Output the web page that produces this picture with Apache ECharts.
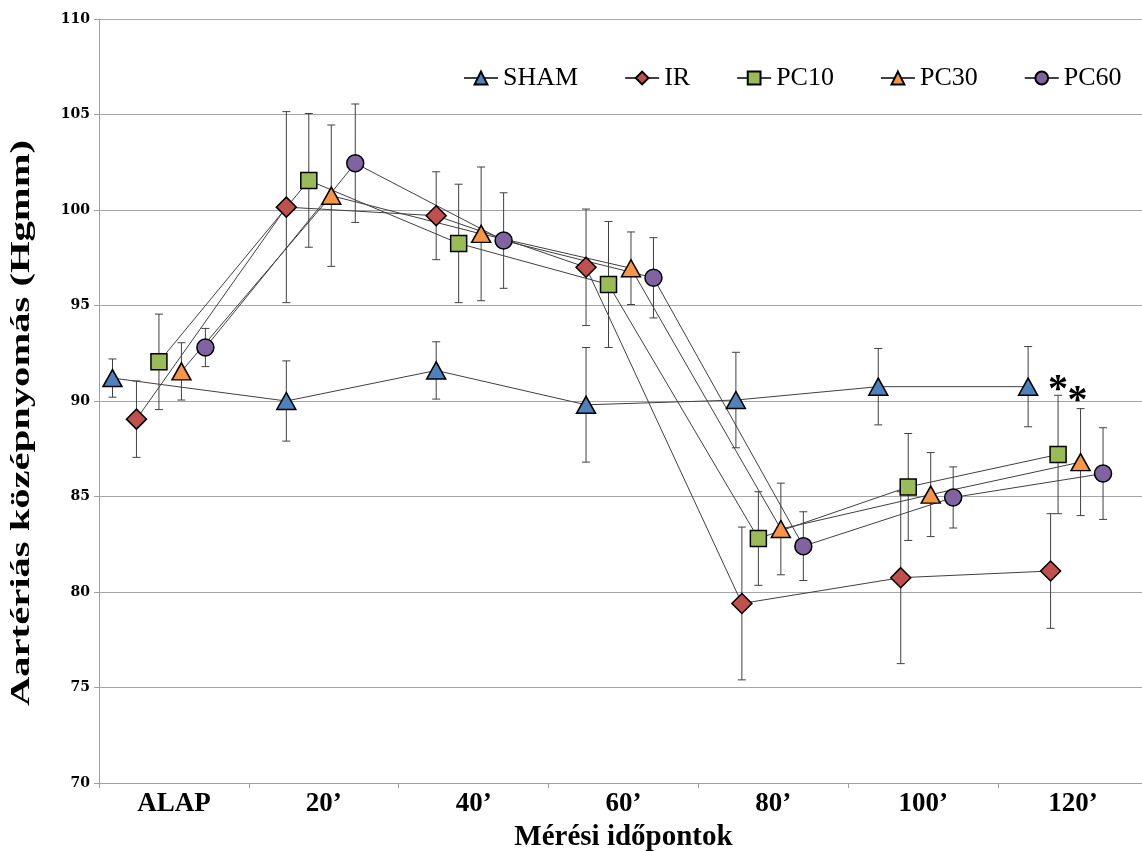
<!DOCTYPE html>
<html>
<head>
<meta charset="utf-8">
<script src="https://cdn.jsdelivr.net/npm/echarts@6/dist/echarts.min.js"></script>
<style>
  html, body { margin: 0; padding: 0; background: #fff; }
  #chart { width: 1142px; height: 851px; }
</style>
</head>
<body>
<div id="chart"></div>
<script>
// categories on the x axis
const categories = ['ALAP', '20’', '40’', '60’', '80’', '100’', '120’'];
const yTicks = [70, 75, 80, 85, 90, 95, 100, 105, 110];

// x position of each point inside its time slot (slot index + offset)
const shamX = [0.09, 1.25, 2.25, 3.25, 4.25, 5.2, 6.2];
const irX   = [0.25, 1.25, 2.25, 3.25, 4.29, 5.35, 6.35];
const pc10X = [0.4, 1.4, 2.4, 3.4, 4.4, 5.4, 6.4];
const pc30X = [0.55, 1.55, 2.55, 3.55, 4.55, 5.55, 6.55];
const pc60X = [0.71, 1.71, 2.7, 3.7, 4.7, 5.7, 6.7];

// means (Hgmm)
const shamMean = [91.2, 90.0, 91.6, 89.8, 90.05, 90.75, 90.75];
const irMean   = [89.05, 100.15, 99.7, 97.0, 79.4, 80.75, 81.1];
const pc10Mean = [92.05, 101.55, 98.25, 96.1, 82.8, 85.5, 87.2];
const pc30Mean = [91.55, 100.75, 98.75, 96.95, 83.3, 85.1, 86.8];
const pc60Mean = [92.8, 102.45, 98.4, 96.45, 82.4, 84.95, 86.2];

// error bar half widths
const shamErr = [1.0, 2.1, 1.5, 3.0, 2.5, 2.0, 2.1];
const irErr   = [2.0, 5.0, 2.3, 3.05, 4.0, 4.5, 3.0];
const pc10Err = [2.5, 3.5, 3.1, 3.3, 2.45, 2.8, 3.1];
const pc30Err = [1.5, 3.7, 3.5, 1.9, 2.4, 2.2, 2.8];
const pc60Err = [1.0, 3.1, 2.5, 2.1, 1.8, 1.6, 2.4];

// significance marks (*)
const sigX = [6.4, 6.53];
const sigY = [90.95, 90.4];

const serif = 'Liberation Serif';

function pairs(xs, ys) {
    let out = [];
    for (let i = 0; i < xs.length; i++) out.push([xs[i], ys[i]]);
    return out;
}
function errData(xs, ys, es) {
    let out = [];
    for (let i = 0; i < xs.length; i++) out.push([xs[i], ys[i] - es[i], ys[i] + es[i]]);
    return out;
}

function errBars(name, xs, ys, es) {
    return {
        type: 'custom',
        name: name + ' err',
        xAxisIndex: 1,
        z: 1,
        silent: true,
        data: errData(xs, ys, es),
        renderItem: function (params, api) {
            let x = api.value(0);
            let lo = api.coord([x, api.value(1)]);
            let hi = api.coord([x, api.value(2)]);
            let st = { stroke: '#404040', lineWidth: 1 };
            return {
                type: 'group',
                children: [
                    { type: 'line', shape: { x1: lo[0], y1: lo[1], x2: hi[0], y2: hi[1] }, style: st },
                    { type: 'line', shape: { x1: lo[0] - 4, y1: lo[1], x2: lo[0] + 4, y2: lo[1] }, style: st },
                    { type: 'line', shape: { x1: hi[0] - 4, y1: hi[1], x2: hi[0] + 4, y2: hi[1] }, style: st }
                ]
            };
        }
    };
}

function lineSeries(name, xs, ys, symbol, size, color) {
    return {
        type: 'line',
        name: name,
        xAxisIndex: 1,
        z: 3,
        data: pairs(xs, ys),
        symbol: symbol,
        symbolSize: size,
        showAllSymbol: true,
        lineStyle: { color: '#404040', width: 1 },
        itemStyle: { color: color, borderColor: '#000', borderWidth: 1.5 },
        emphasis: { disabled: true }
    };
}

let option = {
    animation: false,
    backgroundColor: '#fff',
    grid: { left: 99, right: -6, top: 19, bottom: 68, outerBoundsMode: 'none', containLabel: false },
    legend: {
        left: 458,
        top: 60,
        itemGap: 46,
        itemWidth: 34,
        itemHeight: 16,
        data: ['SHAM', 'IR', 'PC10', 'PC30', 'PC60'],
        textStyle: { fontFamily: serif, fontSize: 26, color: '#000', padding: [0, 0, 0, 0] }
    },
    xAxis: [{
        type: 'category',
        data: categories,
        axisLine: { lineStyle: { color: '#a0a0a0' } },
        axisTick: { show: true, length: 5, lineStyle: { color: '#a0a0a0' } },
        axisLabel: { fontFamily: serif, fontWeight: 'bold', fontSize: 27, color: '#000', margin: 8 },
        name: 'Mérési időpontok',
        nameLocation: 'middle',
        nameGap: 38,
        nameTextStyle: { fontFamily: serif, fontWeight: 'bold', fontSize: 29, color: '#000' }
    }, {
        type: 'value',
        min: 0,
        max: 7,
        show: false
    }],
    yAxis: {
        type: 'value',
        min: yTicks[0],
        max: yTicks[yTicks.length - 1],
        interval: 5,
        axisLine: { show: true, lineStyle: { color: '#a0a0a0' } },
        axisTick: { show: true, length: 5, lineStyle: { color: '#a0a0a0' } },
        axisLabel: { fontFamily: 'DejaVu Serif', fontWeight: 'bold', fontSize: 14, color: '#000', margin: 9 },
        splitLine: { lineStyle: { color: '#a6a6a6', width: 1 } }
    },
    graphic: [{
        type: 'text',
        x: 22,
        y: 423,
        rotation: Math.PI / 2,
        scaleX: 1.45,
        style: {
            text: 'Aartériás középnyomás (Hgmm)',
            font: 'bold 28px "Liberation Serif"',
            fill: '#000',
            textAlign: 'center',
            textVerticalAlign: 'middle'
        }
    }],
    series: [
        errBars('SHAM', shamX, shamMean, shamErr),
        errBars('IR', irX, irMean, irErr),
        errBars('PC10', pc10X, pc10Mean, pc10Err),
        errBars('PC30', pc30X, pc30Mean, pc30Err),
        errBars('PC60', pc60X, pc60Mean, pc60Err),
        lineSeries('SHAM', shamX, shamMean, 'triangle', [19, 17], '#4F81BD'),
        lineSeries('IR', irX, irMean, 'diamond', [20, 20], '#C0504D'),
        lineSeries('PC10', pc10X, pc10Mean, 'rect', [16, 16], '#9BBB59'),
        lineSeries('PC30', pc30X, pc30Mean, 'triangle', [19, 17], '#F79646'),
        lineSeries('PC60', pc60X, pc60Mean, 'circle', [17, 17], '#8064A2'),
        {
            type: 'custom',
            name: 'sig',
            xAxisIndex: 1,
            z: 4,
            silent: true,
            data: pairs(sigX, sigY),
            renderItem: function (params, api) {
                let p = api.coord([api.value(0), api.value(1)]);
                return {
                    type: 'text',
                    style: {
                        text: '*', x: p[0], y: p[1] + 8,
                        font: 'bold 40px "Liberation Serif"',
                        fill: '#000', textAlign: 'center', textVerticalAlign: 'middle'
                    }
                };
            }
        }
    ]
};

let myChart = echarts.init(document.getElementById('chart'));
myChart.setOption(option);
</script>
</body>
</html>
